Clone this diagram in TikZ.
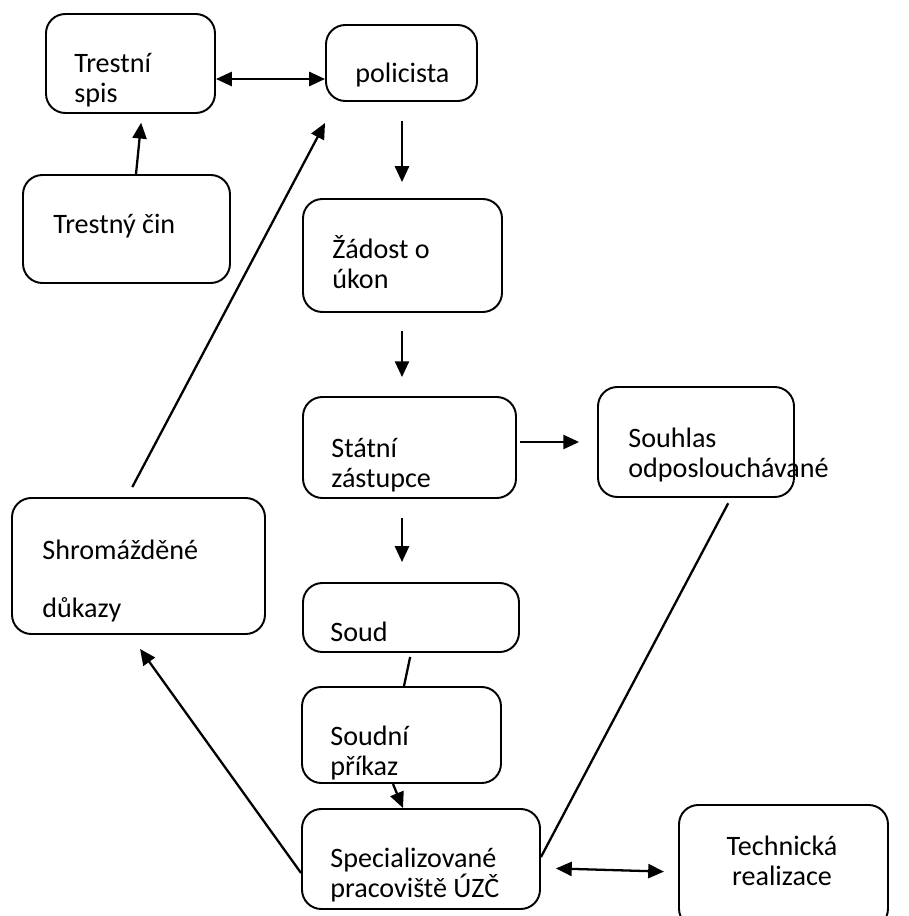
\documentclass[tikz,border=0pt]{standalone}
\usepackage{fontspec}
\setmainfont{Carlito}
\usepackage{tikz}
\usetikzlibrary{arrows.meta,fit}

\begin{document}
\begin{tikzpicture}[x=0.02cm, y=-0.02cm,
    box/.style={draw, line width=1.1pt, rounded corners=11pt, inner sep=0pt},
    txt/.style={inner sep=0pt, align=left, anchor=base west, font=\fontsize{16}{17}\selectfont},
    arr/.style={-{Triangle[length=9pt,width=8pt]}, line width=1.3pt},
    darr/.style={{Triangle[length=9pt,width=8pt]}-{Triangle[length=9pt,width=8pt]}, line width=1.3pt},
    ln/.style={line width=1.3pt}]
            \useasboundingbox (0, 0) rectangle (909, 916);

            % boxes
            \node[box, fit={(46, 14) (215, 113)}] (spis) {};
            \node[box, fit={(326, 25) (477, 101)}] (pol) {};
            \node[box, fit={(23, 175) (230, 283)}] (cin) {};
            \node[box, fit={(303, 199) (502, 312)}] (zad) {};
            \node[box, fit={(303, 397) (516, 498)}] (stat) {};
            \node[box, fit={(598, 387) (794, 497)}] (souh) {};
            \node[box, fit={(12, 498) (265, 634)}] (shrom) {};
            \node[box, fit={(303, 583) (519, 652)}] (soud) {};
            \node[box, fit={(302, 687) (501, 783)}] (prik) {};
            \node[box, fit={(302, 809) (540, 909)}] (spec) {};
            \node[box, fit={(679, 805) (888, 928)}] (tech) {};

            % texts (base = last line)
            \node[txt] (t-spis) at (74, 102) {Trestní\\spis};
            \node[txt] (t-pol) at (355, 82) {policista};
            \node[txt] (t-cin) at (53, 233) {Trestný čin};
            \node[txt] (t-zad) at (332, 288) {Žádost o\\úkon};
            \node[txt] (t-stat) at (331, 487) {Státní\\zástupce};
            \node[txt] (t-souh) at (628, 477) {Souhlas\\odposlouchávané};
            \node[txt] (t-shrom) at (42, 617) {Shromážděné\\[16pt]důkazy};
            \node[txt] (t-soud) at (330, 641) {Soud};
            \node[txt] (t-prik) at (330, 775) {Soudní\\příkaz};
            \node[txt] (t-spec) at (330, 897) {Specializované\\pracoviště ÚZČ};
            \node[txt, align=center, anchor=base] (t-tech) at (782, 885) {Technická\\realizace};

            % connectors
            \draw[darr] (spis.east |- 0, 79) -- (pol.west |- 0, 79);
            \draw[arr, shorten >=5pt] (cin.north -| 136, 0) -- (spis.south -| 142, 0);
            \draw[arr, shorten <=10.8pt, shorten >=9.1pt] (pol.south -| 402, 0) -- (zad.north -| 402, 0);
            \draw[arr, shorten <=10.2pt, shorten >=10.8pt] (zad.south -| 402, 0) -- (stat.north -| 402, 0);
            \draw[arr, shorten <=1.7pt, shorten >=10.2pt] (stat.east |- souh.west) -- (souh.west);
            \draw[arr, shorten <=10.8pt, shorten >=11.4pt] (stat.south -| 402, 0) -- (soud.north -| 402, 0);
            \draw[ln, shorten <=2.3pt] (soud.south -| 411, 0) -- (prik.north -| 404, 0);
            \draw[arr] (prik.south -| 393, 0) -- (spec.north -| 403, 0);
            \draw[ln, shorten <=3.4pt] (souh.south -| 731, 0) -- (spec.east |- 0, 857);
            \draw[darr, shorten <=8.5pt, shorten >=8pt] (spec.east |- 0, 868) -- (tech.west |- 0, 872);
            \draw[arr, shorten >=9.8pt] (spec.west |- 0, 873) -- (shrom.south -| 130, 0);
            \draw[arr, shorten <=6.4pt] (shrom.north -| 127, 0) -- ([yshift=-0.42cm]pol.south west);

\end{tikzpicture}
\end{document}
